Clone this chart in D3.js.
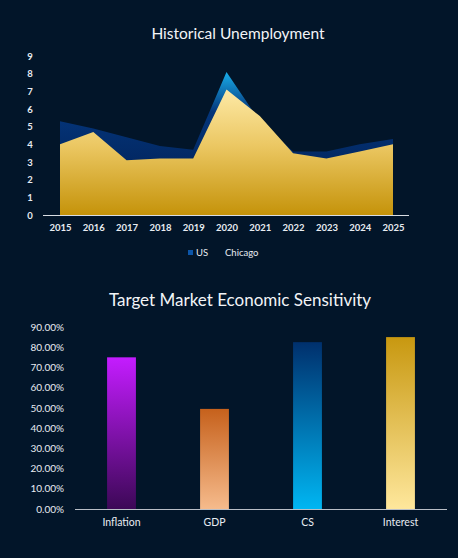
<!DOCTYPE html>
<html>
<head>
<meta charset="utf-8">
<script src="https://cdn.jsdelivr.net/npm/d3@7"></script>
<style>
  html, body { margin: 0; padding: 0; background: #021529; }
  svg { display: block; }
  svg text { font-family: Lato, "Open Sans", sans-serif; }
  .tick text { fill: #e8ecf2; }
</style>
</head>
<body>
<script>
// data
var years = [2015, 2016, 2017, 2018, 2019, 2020, 2021, 2022, 2023, 2024, 2025];
var usRate = [5.3, 4.9, 4.4, 3.9, 3.7, 8.1, 5.3, 3.6, 3.6, 4.0, 4.3];
var chicagoRate = [4.0, 4.7, 3.1, 3.2, 3.2, 7.1, 5.6, 3.5, 3.2, 3.6, 4.0];
var unempTicks = [0, 1, 2, 3, 4, 5, 6, 7, 8, 9];

var factors = ["Inflation", "GDP", "CS", "Interest"];
var sensitivity = [0.75, 0.495, 0.825, 0.85];
var pctTicks = [0, 0.1, 0.2, 0.3, 0.4, 0.5, 0.6, 0.7, 0.8, 0.9];

var svgWidth = 458;
var svgHeight = 558;

var svg = d3.select("body")
  .append("svg")
  .attr("width", svgWidth)
  .attr("height", svgHeight);

svg.append("rect")
  .attr("width", svgWidth)
  .attr("height", svgHeight)
  .attr("fill", "#021529");

var defs = svg.append("defs");

function vGrad(id, stops) {
  var g = defs.append("linearGradient")
    .attr("id", id)
    .attr("x1", 0).attr("y1", 0)
    .attr("x2", 0).attr("y2", 1);
  stops.forEach(s => {
    g.append("stop").attr("offset", s[0]).attr("stop-color", s[1]);
  });
}

vGrad("gUS", [["0%", "#19aeea"], ["28%", "#04357a"], ["100%", "#001a4a"]]);
vGrad("gChi", [["0%", "#fde9a6"], ["45%", "#ebc762"], ["100%", "#c5930a"]]);
vGrad("gInfl", [["0%", "#c41cff"], ["100%", "#3c0856"]]);
vGrad("gGdp", [["0%", "#c6611c"], ["100%", "#f6bb8c"]]);
vGrad("gCs", [["0%", "#00306d"], ["100%", "#00b6f2"]]);
vGrad("gInt", [["0%", "#c89810"], ["100%", "#fee79c"]]);

// ---------- top chart: area ----------
var areaBox = { left: 43, right: 409, top: 56, bottom: 215 };

var xScale = d3.scalePoint()
  .domain(years)
  .range([60, 393]);

var yScale = d3.scaleLinear()
  .domain([0, 9])
  .range([areaBox.bottom, areaBox.top]);

svg.append("text")
  .attr("x", 238)
  .attr("y", 39)
  .attr("text-anchor", "middle")
  .attr("fill", "#f2f4f7")
  .style("font-size", "15.5px")
  .text("Historical Unemployment");

var area = d3.area()
  .x((d, i) => xScale(years[i]))
  .y0(yScale(0))
  .y1(d => yScale(d));

svg.append("path")
  .datum(usRate)
  .attr("d", area)
  .attr("fill", "url(#gUS)");

svg.append("path")
  .datum(chicagoRate)
  .attr("d", area)
  .attr("fill", "url(#gChi)");

var leftAxis = d3.axisLeft(yScale)
  .tickValues(unempTicks)
  .tickSize(0)
  .tickPadding(0);

svg.append("g")
  .attr("transform", "translate(30,0)")
  .call(leftAxis)
  .call(g => g.select(".domain").remove())
  .selectAll("text")
  .attr("text-anchor", "middle")
  .style("font-size", "9.5px")
  .style("font-weight", "bold");

var bottomAxis = d3.axisBottom(xScale)
  .tickSize(0)
  .tickPadding(9);

svg.append("g")
  .attr("transform", `translate(0, ${areaBox.bottom})`)
  .call(bottomAxis)
  .call(g => g.select(".domain").remove())
  .selectAll("text")
  .style("font-size", "9.5px")
  .style("font-weight", "bold");

svg.append("line")
  .attr("x1", areaBox.left).attr("x2", areaBox.right)
  .attr("y1", areaBox.bottom + 0.5).attr("y2", areaBox.bottom + 0.5)
  .attr("stroke", "#d9dde3")
  .attr("stroke-width", 1);

// legend
svg.append("rect")
  .attr("x", 188).attr("y", 250)
  .attr("width", 5).attr("height", 5)
  .attr("fill", "#0c55a8");
svg.append("text")
  .attr("x", 196).attr("y", 256)
  .attr("fill", "#e8ecf2")
  .style("font-size", "9.5px")
  .text("US");
svg.append("text")
  .attr("x", 225).attr("y", 256)
  .attr("fill", "#e8ecf2")
  .style("font-size", "9.5px")
  .text("Chicago");

// ---------- bottom chart: bars ----------
var barBox = { left: 75, right: 447, top: 327, bottom: 509 };

svg.append("text")
  .attr("x", 240)
  .attr("y", 306)
  .attr("text-anchor", "middle")
  .attr("fill", "#f2f4f7")
  .style("font-size", "17px")
  .text("Target Market Economic Sensitivity");

var bandScale = d3.scaleBand()
  .domain(factors)
  .range([barBox.left, barBox.right])
  .paddingInner(0.69)
  .paddingOuter(0.345);

var pctScale = d3.scaleLinear()
  .domain([0, 0.9])
  .range([barBox.bottom, barBox.top]);

var gradIds = ["gInfl", "gGdp", "gCs", "gInt"];

svg.selectAll(".bar")
  .data(sensitivity)
  .enter()
  .append("rect")
  .attr("class", "bar")
  .attr("x", (d, i) => bandScale(factors[i]))
  .attr("y", d => pctScale(d))
  .attr("width", bandScale.bandwidth())
  .attr("height", d => pctScale(0) - pctScale(d))
  .attr("fill", (d, i) => `url(#${gradIds[i]})`);

var pctAxis = d3.axisLeft(pctScale)
  .tickValues(pctTicks)
  .tickFormat(d3.format(".2%"))
  .tickSize(0)
  .tickPadding(0);

svg.append("g")
  .attr("transform", "translate(64,0)")
  .call(pctAxis)
  .call(g => g.select(".domain").remove())
  .selectAll("text")
  .style("font-size", "10px");

var catAxis = d3.axisBottom(bandScale)
  .tickSize(0)
  .tickPadding(10);

svg.append("g")
  .attr("transform", `translate(0, ${barBox.bottom})`)
  .call(catAxis)
  .call(g => g.select(".domain").remove())
  .selectAll("text")
  .style("font-size", "10.5px");

svg.append("line")
  .attr("x1", barBox.left).attr("x2", barBox.right)
  .attr("y1", barBox.bottom + 0.5).attr("y2", barBox.bottom + 0.5)
  .attr("stroke", "#b9bec6")
  .attr("stroke-width", 1);
</script>
</body>
</html>
